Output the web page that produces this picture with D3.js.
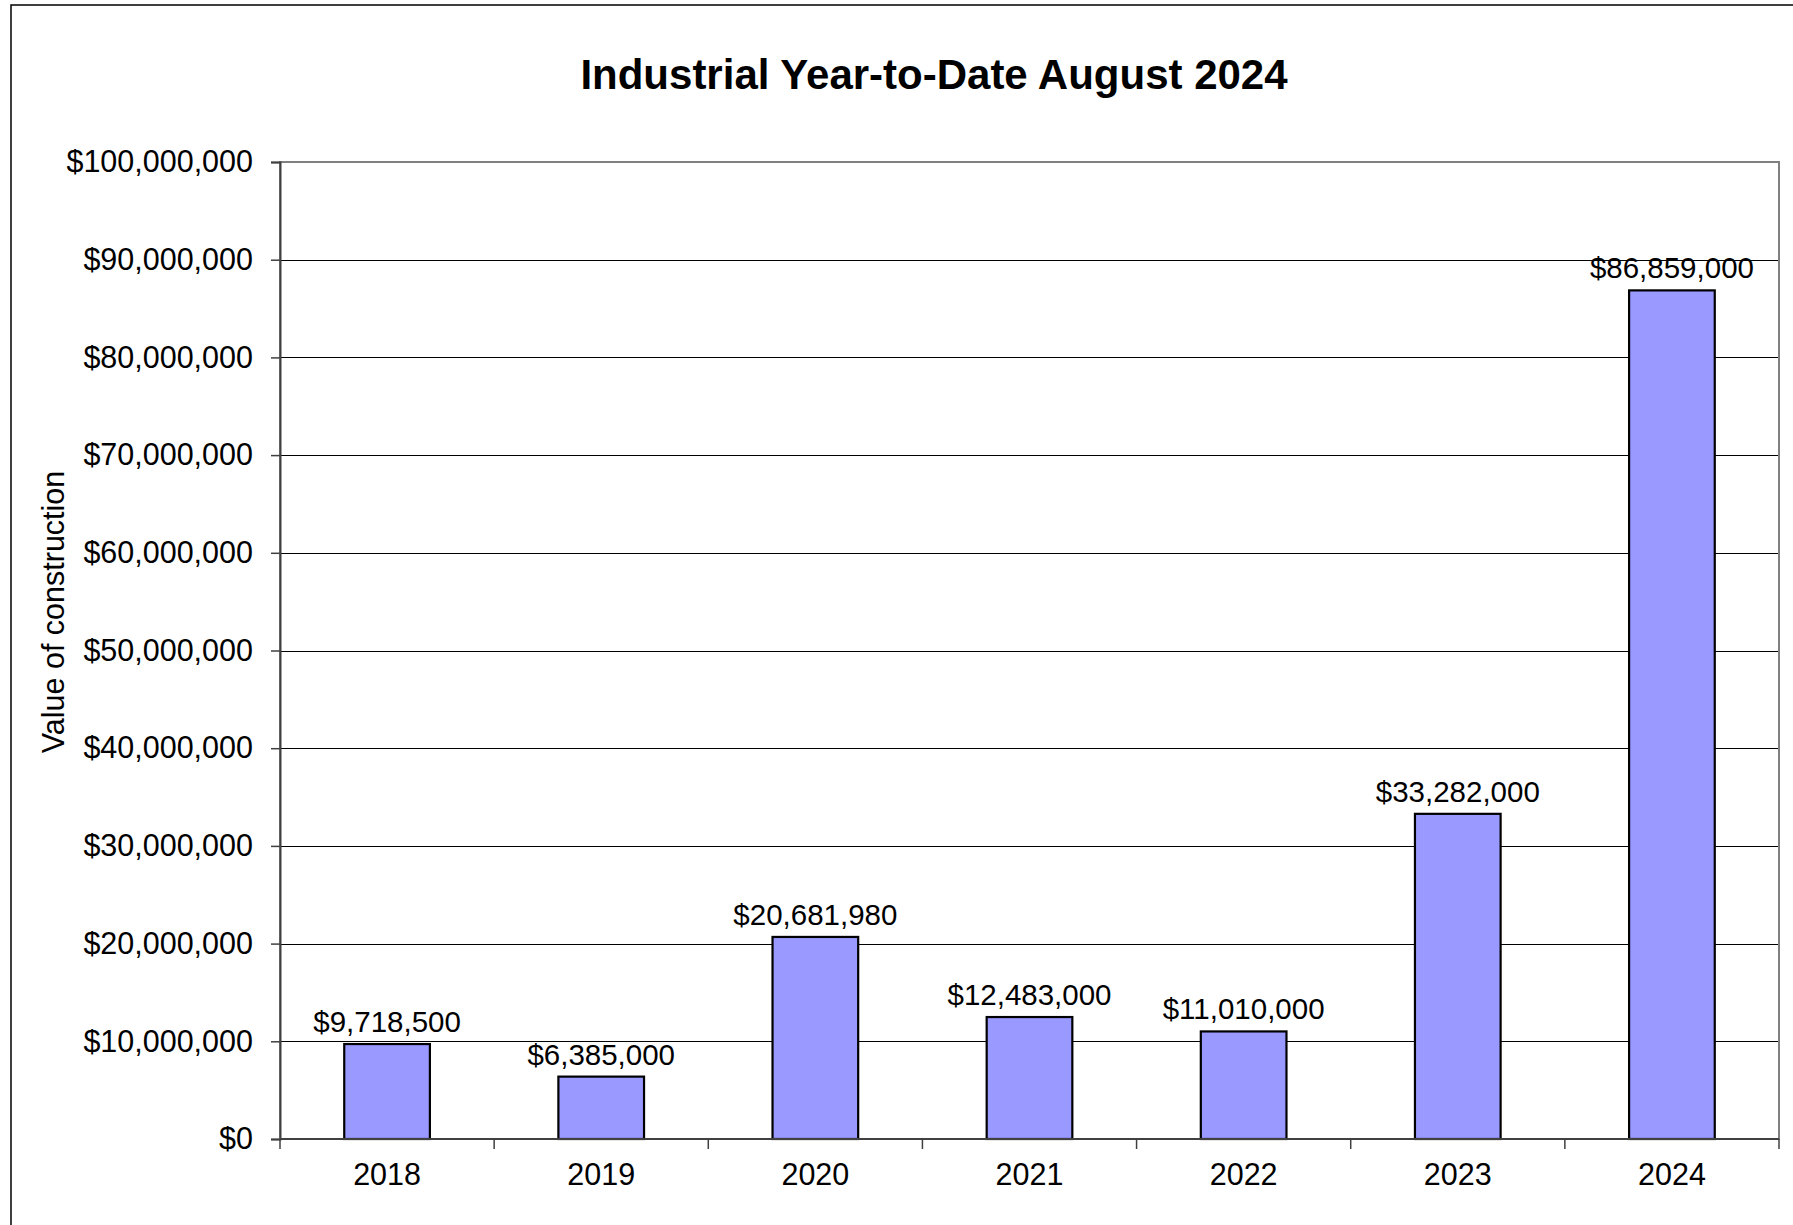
<!DOCTYPE html>
<html>
<head>
<meta charset="utf-8">
<script src="https://cdn.jsdelivr.net/npm/d3@7"></script>
<style>
  html, body { margin: 0; padding: 0; background: #fff; }
  svg { display: block; }
  text { font-family: "Liberation Sans", Arial, sans-serif; fill: #000; }
</style>
</head>
<body>
<svg id="chart" width="1793" height="1225"></svg>
<script>
const categories = ["2018", "2019", "2020", "2021", "2022", "2023", "2024"];
const values = [9718500, 6385000, 20681980, 12483000, 11010000, 33282000, 86859000];
const valueLabels = ["$9,718,500", "$6,385,000", "$20,681,980", "$12,483,000", "$11,010,000", "$33,282,000", "$86,859,000"];
const yTicks = [0, 10000000, 20000000, 30000000, 40000000, 50000000, 60000000, 70000000, 80000000, 90000000, 100000000];
const titleText = "Industrial Year-to-Date August 2024";
const yAxisTitle = "Value of construction";

const svg = d3.select("#chart");
const W = 1793, H = 1225;
const plot = { left: 280, right: 1779, top: 162, bottom: 1139 };

// outer chart border
svg.append("rect")
  .attr("x", 11).attr("y", 5)
  .attr("width", W + 20).attr("height", H + 20)
  .attr("fill", "#fff").attr("stroke", "#000").attr("stroke-width", 1.5);

const x = d3.scaleBand()
  .domain(categories)
  .range([plot.left, plot.right])
  .paddingInner(0.6)
  .paddingOuter(0.3);

const y = d3.scaleLinear()
  .domain([0, 100000000])
  .range([plot.bottom, plot.top]);

const fmt = v => "$" + d3.format(",")(v);

// gridlines
svg.append("g")
  .selectAll("line")
  .data(yTicks.filter(t => t > 0 && t < 100000000))
  .join("line")
  .attr("x1", plot.left).attr("x2", plot.right)
  .attr("y1", d => Math.round(y(d)) + 0.5).attr("y2", d => Math.round(y(d)) + 0.5)
  .attr("stroke", "#000").attr("stroke-width", 1);

// plot border (gray)
svg.append("rect")
  .attr("x", plot.left).attr("y", plot.top)
  .attr("width", plot.right - plot.left).attr("height", plot.bottom - plot.top)
  .attr("fill", "none").attr("stroke", "#808080").attr("stroke-width", 2);

// bars
svg.append("g")
  .selectAll("rect")
  .data(categories.map((c, i) => ({ c, v: values[i] })))
  .join("rect")
  .attr("x", d => x(d.c))
  .attr("y", d => y(d.v))
  .attr("width", x.bandwidth())
  .attr("height", d => y(0) - y(d.v))
  .attr("fill", "#9999FF")
  .attr("stroke", "#000")
  .attr("stroke-width", 2.2);

// y axis
const yAxis = d3.axisLeft(y)
  .tickValues(yTicks)
  .tickFormat(fmt)
  .tickSize(9)
  .tickPadding(18);
const gy = svg.append("g")
  .attr("transform", `translate(${plot.left},0)`)
  .call(yAxis);
gy.select(".domain").attr("stroke", "#404040").attr("stroke-width", 2);
gy.selectAll(".tick line").attr("stroke", "#404040").attr("stroke-width", 1.5);
gy.selectAll(".tick text")
  .style("font-family", '"Liberation Sans", Arial, sans-serif')
  .style("font-size", "30.5px")
  .attr("fill", "#000");

// x axis: ticks at category boundaries
const boundaries = d3.range(categories.length + 1).map(i => plot.left + i * (plot.right - plot.left) / categories.length);
svg.append("g")
  .selectAll("line")
  .data(boundaries)
  .join("line")
  .attr("x1", d => d).attr("x2", d => d)
  .attr("y1", plot.bottom).attr("y2", plot.bottom + 10)
  .attr("stroke", "#404040").attr("stroke-width", 1.5);
svg.append("line")
  .attr("x1", plot.left).attr("x2", plot.right)
  .attr("y1", plot.bottom).attr("y2", plot.bottom)
  .attr("stroke", "#404040").attr("stroke-width", 2);

const xAxis = d3.axisBottom(x).tickSize(0).tickPadding(24);
const gx = svg.append("g")
  .attr("transform", `translate(0,${plot.bottom})`)
  .call(xAxis);
gx.select(".domain").remove();
gx.selectAll(".tick text")
  .style("font-family", '"Liberation Sans", Arial, sans-serif')
  .style("font-size", "30.5px")
  .attr("fill", "#000");

// data labels
svg.append("g")
  .selectAll("text")
  .data(categories.map((c, i) => ({ c, v: values[i], l: valueLabels[i] })))
  .join("text")
  .attr("x", d => x(d.c) + x.bandwidth() / 2)
  .attr("y", d => y(d.v) - 12)
  .attr("text-anchor", "middle")
  .style("font-size", "29.5px")
  .text(d => d.l);

// title
svg.append("text")
  .attr("x", 934).attr("y", 89)
  .attr("text-anchor", "middle")
  .style("font-size", "42px")
  .style("font-weight", "bold")
  .text(titleText);

// y axis title
svg.append("text")
  .attr("transform", "translate(64,612) rotate(-90)")
  .attr("text-anchor", "middle")
  .style("font-size", "30.5px")
  .text(yAxisTitle);
</script>
</body>
</html>
